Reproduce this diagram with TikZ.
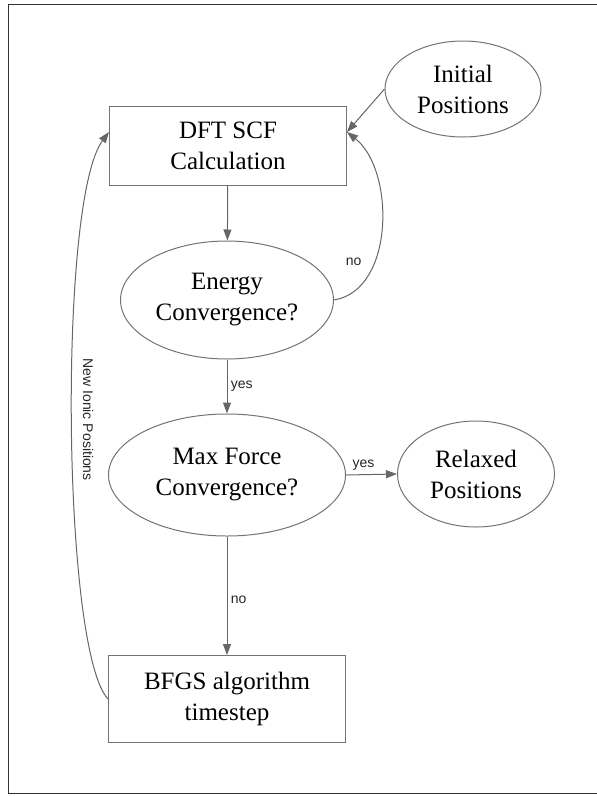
\documentclass[tikz,border=0pt]{standalone}
\usepackage{fontspec}
\setmainfont{Liberation Serif}
\newfontfamily\stepfont{Liberation Serif}
\newfontfamily\labelfont{Liberation Sans}
\usetikzlibrary{shapes.geometric,arrows.meta}

\begin{document}
\begin{tikzpicture}[x=1pt,y=-1pt,
  box/.style={draw=black!55, line width=1pt, minimum width=237pt, inner sep=0pt,
    align=center, font=\stepfont\fontsize{25}{31}\selectfont},
  oval/.style={ellipse, draw=black!55, line width=1pt, inner sep=0pt,
    align=center, font=\stepfont\fontsize{25}{31}\selectfont},
  link/.style={draw=black!60, line width=1pt, -{Triangle[length=11pt,width=8pt]}},
  tag/.style={font=\labelfont\fontsize{14}{16}\selectfont, text=black!85}]
\useasboundingbox (0,0) rectangle (597,796);
% frame
\draw[black!80, line width=1pt] (602,4) -- (8,4) -- (8,793) -- (602,793);

% steps
\node[box, minimum height=79pt] (dft) at (228,146) {DFT SCF\\Calculation};
\node[oval, minimum width=156pt, minimum height=96pt] (init) at (463,89) {Initial\\Positions};
\node[oval, minimum width=213pt, minimum height=118pt] (energy) at (227,300) {Energy\\Convergence?};
\node[oval, minimum width=237pt, minimum height=122pt] (force) at (227,475) {Max Force\\Convergence?};
\node[oval, minimum width=157pt, minimum height=106pt] (relaxed) at (476,474) {Relaxed\\Positions};
\node[box, minimum height=87pt] (bfgs) at (227,699) {BFGS algorithm\\timestep};

% connectors
\draw[link] (init.west) -- ([yshift=14pt]dft.east);
\draw[link] (dft) -- (energy);
\draw[link] (energy.east) .. controls (395,290) and (395,170) .. ([yshift=14pt]dft.east)
  node[tag, pos=0.28, above left, xshift=-6pt] {no};
\draw[link] (energy) -- (force) node[tag, midway, right] {yes};
\draw[link] (force.east) -- (relaxed.west) node[tag, midway, above, xshift=-8pt] {yes};
\draw[link] (force) -- (bfgs) node[tag, midway, right, yshift=-4pt] {no};
\draw[link] (bfgs.west) .. controls (62,650) and (58,200) .. ([yshift=14pt]dft.west)
  node[tag, pos=0.5, rotate=-90, anchor=south, xshift=-3pt, yshift=7pt] {New Ionic Positions};

\end{tikzpicture}
\end{document}
